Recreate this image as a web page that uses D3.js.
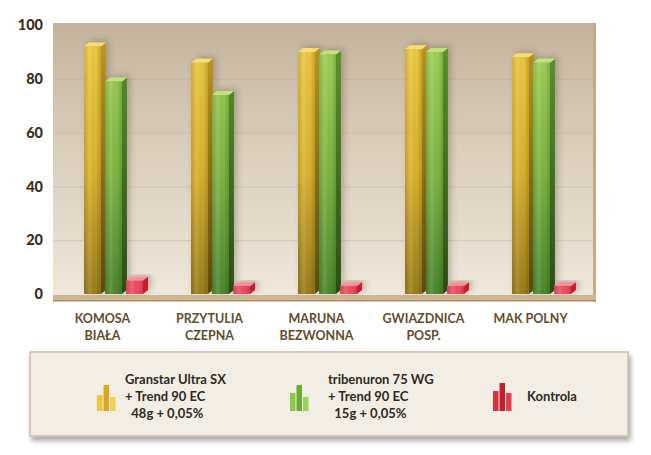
<!DOCTYPE html>
<html>
<head>
<meta charset="utf-8">
<script src="https://cdn.jsdelivr.net/npm/d3@7"></script>
<style>
  html, body { margin: 0; padding: 0; background: #ffffff; }
  svg { display: block; }
</style>
</head>
<body>
<script>
// ---------- data ----------
const categories = [
  ["KOMOSA", "BIAŁA"],
  ["PRZYTULIA", "CZEPNA"],
  ["MARUNA", "BEZWONNA"],
  ["GWIAZDNICA", "POSP."],
  ["MAK POLNY"]
];
const seriesNames = ["Granstar Ultra SX + Trend 90 EC 48g + 0,05%", "tribenuron 75 WG + Trend 90 EC 15g + 0,05%", "Kontrola"];
const granstar    = [92, 86, 90, 91, 88];
const tribenuron  = [79, 74, 89, 90, 86];
const kontrola    = [5, 3, 3, 3, 3];
const yTicks      = [0, 20, 40, 60, 80, 100];
const legendLines = [
  ["Granstar Ultra SX", "+ Trend 90 EC", "  48g + 0,05%"],
  ["tribenuron 75 WG", "+ Trend 90 EC", "  15g + 0,05%"],
  ["Kontrola"]
];

// ---------- setup ----------
const W = 651, H = 455;
const svg = d3.select("body").append("svg").attr("width", W).attr("height", H);
svg.append("rect").attr("width", W).attr("height", H).attr("fill", "#ffffff");

const defs = svg.append("defs");
function vgrad(id, stops, y1, y2) {
  const g = defs.append("linearGradient").attr("id", id)
    .attr("gradientUnits", "userSpaceOnUse").attr("x1", 0).attr("x2", 0).attr("y1", y1).attr("y2", y2);
  stops.forEach(s => g.append("stop").attr("offset", s[0]).attr("stop-color", s[1]));
}
function hgrad(id, stops) {
  const g = defs.append("linearGradient").attr("id", id).attr("x1", 0).attr("x2", 1).attr("y1", 0).attr("y2", 0);
  stops.forEach(s => g.append("stop").attr("offset", s[0]).attr("stop-color", s[1]).attr("stop-opacity", s[2] == null ? 1 : s[2]));
}

const plot = { left: 53, right: 594, top: 23, bottom: 300 };
const y = d3.scaleLinear().domain([0, 100]).range([294, 25]);
const x = d3.scaleBand().domain(d3.range(categories.length)).range([52, 587]);
const inner = d3.scaleBand().domain(d3.range(3)).range([32, 91]).paddingInner(0.2);

vgrad("bgGrad", [[0, "#c4b49d"], [0.45, "#d9cdbb"], [1, "#efe8dc"]], plot.top, plot.bottom);
// colours: front, side, top
const palettes = [
  { front: [[0, "#f1cd42"], [0.55, "#d9b22c"], [1, "#9a7c1a"]], side: [[0, "#c79b1c"], [1, "#5e4a10"]], top: "#f7de72" },
  { front: [[0, "#a6d65a"], [0.55, "#7db542"], [1, "#4a882c"]], side: [[0, "#5b9a2a"], [1, "#2b4d16"]], top: "#bfe47a" },
  { front: [[0, "#f76a7e"], [1, "#ee4c64"]], side: [[0, "#e0283a"], [1, "#c81c2c"]], top: "#f892a0" }
];
palettes.forEach((p, i) => {
  vgrad("front" + i, p.front, y(100), y(0));
  vgrad("side" + i, p.side, y(100), y(0));
});
hgrad("shade", [[0, "#000", 0.12], [0.35, "#fff", 0.12], [0.7, "#000", 0], [1, "#000", 0.18]]);

const shadow = defs.append("filter").attr("id", "shadow").attr("x", "-20%").attr("y", "-20%").attr("width", "140%").attr("height", "160%");
shadow.append("feDropShadow").attr("dx", 2).attr("dy", 4).attr("stdDeviation", 2.5).attr("flood-color", "#000").attr("flood-opacity", 0.35);
const barShadow = defs.append("filter").attr("id", "barShadow").attr("x", "-50%").attr("y", "-10%").attr("width", "200%").attr("height", "120%");
barShadow.append("feDropShadow").attr("dx", 3).attr("dy", -2).attr("stdDeviation", 3).attr("flood-color", "#5a4a30").attr("flood-opacity", 0.35);

// ---------- plot background ----------
svg.append("rect").attr("x", plot.left).attr("y", plot.top)
  .attr("width", plot.right - plot.left).attr("height", plot.bottom - plot.top)
  .attr("fill", "url(#bgGrad)");

// gridlines
svg.append("g").selectAll("line").data(yTicks.filter(t => t > 0 && t < 100)).join("line")
  .attr("x1", plot.left).attr("x2", plot.right)
  .attr("y1", d => y(d) + 0.5).attr("y2", d => y(d) + 0.5)
  .attr("stroke", "#bfae96").attr("stroke-opacity", 0.45).attr("stroke-width", 1);

// right wall edge
svg.append("rect").attr("x", plot.right - 1).attr("y", plot.top).attr("width", 3).attr("height", plot.bottom - plot.top + 2)
  .attr("fill", "#c2ab85");
// floor
svg.append("rect").attr("x", plot.left).attr("y", y(0) + 1).attr("width", plot.right - plot.left + 2).attr("height", 6)
  .attr("fill", "#ceb690");
svg.append("rect").attr("x", plot.left).attr("y", y(0) + 6).attr("width", plot.right - plot.left + 2).attr("height", 1.5)
  .attr("fill", "#a88f66");

// ---------- bars ----------
const dx = 5, dy = 4;
const allSeries = [granstar, tribenuron, kontrola];
const barsG = svg.append("g");
categories.forEach((c, ci) => {
  allSeries.forEach((vals, si) => {
    const v = vals[ci];
    const x0 = x(ci) + inner(si);
    const w = inner.bandwidth();
    const yt = y(v), yb = y(0);
    const g = barsG.append("g").attr("filter", "url(#barShadow)");
    g.append("polygon")
      .attr("points", [[x0 + w, yt], [x0 + w + dx, yt - dy], [x0 + w + dx, yb - dy], [x0 + w, yb]].map(p => p.join(",")).join(" "))
      .attr("fill", `url(#side${si})`);
    g.append("polygon")
      .attr("points", [[x0, yt], [x0 + dx, yt - dy], [x0 + w + dx, yt - dy], [x0 + w, yt]].map(p => p.join(",")).join(" "))
      .attr("fill", palettes[si].top);
    g.append("rect").attr("x", x0).attr("y", yt).attr("width", w).attr("height", yb - yt)
      .attr("fill", `url(#front${si})`);
    g.append("rect").attr("x", x0).attr("y", yt).attr("width", w).attr("height", yb - yt)
      .attr("fill", "url(#shade)");
  });
});

// ---------- y axis ----------
const yAxis = svg.append("g").attr("transform", `translate(${plot.left},0)`)
  .call(d3.axisLeft(y).tickValues(yTicks).tickSize(0).tickPadding(10).tickFormat(d3.format("d")));
yAxis.select(".domain").remove();
yAxis.selectAll("text")
  .attr("font-family", "Lato, 'Open Sans', sans-serif").attr("font-weight", 900)
  .attr("font-size", 14.5).attr("fill", "#3b2e1c");

// ---------- x category labels ----------
const xl = svg.append("g");
categories.forEach((lines, ci) => {
  const cx = x(ci) + x.bandwidth() / 2 - 3;
  const t = xl.append("text")
    .attr("x", cx).attr("y", 323)
    .attr("text-anchor", "middle")
    .attr("font-family", "Lato, 'Open Sans', sans-serif").attr("font-weight", 700)
    .attr("font-size", 12.5).attr("fill", "#614d2c");
  lines.forEach((ln, li) => t.append("tspan").attr("x", cx).attr("dy", li === 0 ? 0 : 17).text(ln));
});

// ---------- legend ----------
const lg = svg.append("g");
lg.append("rect").attr("x", 30).attr("y", 352).attr("width", 598).attr("height", 84)
  .attr("fill", "#f3eee5").attr("stroke", "#cdbd9e").attr("stroke-width", 1.5)
  .attr("filter", "url(#shadow)");

const legendItems = [
  { ix: 97, tx: 125, color: ["#f0c63a", "#d9a81e", "#f4d050"] },
  { ix: 290, tx: 328, color: ["#8cc84a", "#6aab33", "#9ad258"] },
  { ix: 493, tx: 527, color: ["#d8323f", "#c02030", "#e04050"] }
];
const iconHeights = [[16, 26, 14], [18, 26, 14], [20, 28, 18]];
legendItems.forEach((it, i) => {
  const base = 411;
  iconHeights[i].forEach((h, k) => {
    lg.append("rect").attr("x", it.ix + k * 6.5).attr("y", base - h).attr("width", 5.5).attr("height", h)
      .attr("fill", it.color[k]);
  });
  const lines = legendLines[i];
  const startY = lines.length === 1 ? 401 : 384;
  const t = lg.append("text")
    .attr("font-family", "Lato, 'Open Sans', sans-serif").attr("font-weight", 700)
    .attr("font-size", 13).attr("fill", "#2e2a24")
    .attr("xml:space", "preserve").style("white-space", "pre");
  lines.forEach((ln, li) => t.append("tspan").attr("x", it.tx).attr("y", startY + li * 17).text(ln));
});
</script>
</body>
</html>
